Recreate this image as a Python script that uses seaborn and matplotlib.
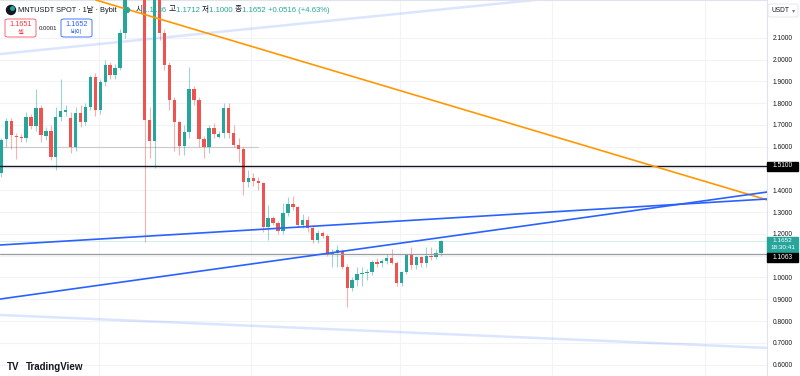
import numpy as np
import pandas as pd
import seaborn as sns
import matplotlib.pyplot as plt
from matplotlib.patches import Rectangle, FancyBboxPatch, Ellipse

# daily candles, MNTUSDT
opens = [1.479, 1.634, 1.719, 1.650, 1.643, 1.640, 1.737, 1.695, 1.777, 1.649,
         1.672, 1.553, 1.735, 1.760, 1.732, 1.599, 1.755, 1.714, 1.782, 1.920,
         1.768, 1.897, 1.975, 1.929, 1.961, 2.122, 2.320, 2.550, 2.450, 2.360,
         1.723, 1.627, 2.300, 2.122, 1.975, 1.814, 1.714, 1.603, 1.667, 1.865,
         1.814, 1.635, 1.599, 1.686, 1.645, 1.663, 1.777, 1.663, 1.608, 1.590,
         1.438, 1.456, 1.443, 1.433, 1.232, 1.273, 1.250, 1.214, 1.296, 1.337,
         1.324, 1.241, 1.264, 1.227, 1.172, 1.204, 1.190, 1.108, 1.113, 1.122,
         1.049, 0.952, 0.989, 1.016, 1.021, 1.025, 1.071, 1.066, 1.075, 1.090,
         1.066, 0.975, 1.025, 1.103, 1.057, 1.094, 1.066, 1.099, 1.094, 1.1136]
highs = [1.640, 1.732, 1.732, 1.663, 1.660, 1.760, 1.750, 1.865, 1.790, 1.690,
         1.700, 1.780, 1.910, 1.790, 1.760, 1.780, 1.790, 1.800, 1.930, 1.940,
         1.910, 2.000, 1.990, 1.980, 2.140, 2.360, 2.620, 2.650, 2.500, 2.400,
         1.780, 2.350, 2.300, 2.140, 1.990, 1.830, 1.720, 1.700, 1.966, 1.880,
         1.830, 1.650, 1.700, 1.710, 1.670, 1.800, 1.800, 1.700, 1.640, 1.600,
         1.493, 1.480, 1.460, 1.440, 1.332, 1.280, 1.260, 1.340, 1.370, 1.374,
         1.330, 1.290, 1.280, 1.240, 1.220, 1.215, 1.200, 1.130, 1.150, 1.130,
         1.060, 1.000, 1.050, 1.050, 1.040, 1.080, 1.090, 1.085, 1.110, 1.130,
         1.075, 1.030, 1.110, 1.140, 1.100, 1.100, 1.140, 1.140, 1.130, 1.1712]
lows = [1.460, 1.600, 1.590, 1.544, 1.620, 1.620, 1.680, 1.670, 1.620, 1.630,
        1.540, 1.493, 1.720, 1.740, 1.570, 1.580, 1.690, 1.700, 1.770, 1.740,
        1.750, 1.880, 1.910, 1.910, 1.950, 2.100, 2.300, 2.400, 2.300, 1.163,
        1.550, 1.500, 2.090, 1.950, 1.770, 1.580, 1.560, 1.560, 1.640, 1.790,
        1.600, 1.548, 1.570, 1.640, 1.640, 1.640, 1.640, 1.600, 1.530, 1.378,
        1.415, 1.420, 1.400, 1.210, 1.172, 1.240, 1.200, 1.200, 1.280, 1.310,
        1.230, 1.225, 1.210, 1.160, 1.160, 1.180, 1.100, 1.049, 1.049, 1.040,
        0.865, 0.940, 0.960, 0.960, 0.990, 1.010, 1.050, 1.050, 1.060, 1.060,
        0.960, 0.960, 1.015, 1.040, 1.040, 1.050, 1.050, 1.080, 1.085, 1.1000]
closes = [1.631, 1.719, 1.654, 1.645, 1.638, 1.737, 1.695, 1.777, 1.654, 1.672,
          1.553, 1.737, 1.764, 1.770, 1.599, 1.755, 1.714, 1.782, 1.920, 1.768,
          1.897, 1.975, 1.929, 1.961, 2.122, 2.320, 2.550, 2.450, 2.360, 1.723,
          1.627, 2.300, 2.122, 1.975, 1.814, 1.714, 1.603, 1.667, 1.865, 1.814,
          1.635, 1.599, 1.686, 1.658, 1.658, 1.777, 1.663, 1.608, 1.590, 1.438,
          1.456, 1.443, 1.433, 1.232, 1.273, 1.250, 1.214, 1.296, 1.337, 1.324,
          1.241, 1.264, 1.227, 1.172, 1.204, 1.190, 1.108, 1.117, 1.126, 1.049,
          0.952, 0.989, 1.016, 1.021, 1.025, 1.071, 1.062, 1.075, 1.090, 1.066,
          0.975, 1.025, 1.103, 1.057, 1.094, 1.066, 1.099, 1.094, 1.112, 1.1652]

# drawings (candle index, price anchors)
orange_idx, orange_px = [19.1, 155.0], [2.273, 1.356]
blue_a_idx, blue_a_px = [-0.3, 155.0], [1.149, 1.360]
blue_b_idx, blue_b_px = [-0.3, 155.0], [0.901, 1.392]
faint_top_idx, faint_top_px = [-0.3, 108.0], [2.025, 2.273]
faint_low_idx, faint_low_px = [-0.3, 155.0], [0.828, 0.677]
old_level_idx, old_level_px = [-0.3, 52.0], [1.60, 1.60]
level_black = 1.51
level_gray = 1.1063
last_price = 1.1652

month_grid = [19.7, 50.5, 80.7, 111.4, 142.4]
price_ticks = [0.6, 0.7, 0.8, 0.9, 1.0, 1.1, 1.2, 1.3, 1.4, 1.5,
               1.6, 1.7, 1.8, 1.9, 2.0, 2.1]
hidden_ticks = [1.1, 1.5]  # covered by the price tags

# OHLC legend in the header
ohlc_labels = ['시', '고', '저', '종']
ohlc_values = ['1.1136', '1.1712', '1.1000', '1.1652']
change_text = '+0.0516 (+4.63%)'

GREEN = '#26a69a'
RED = '#ef5350'
DARK = '#131722'

df = pd.DataFrame({'open': opens, 'high': highs, 'low': lows, 'close': closes})
df['idx'] = np.arange(len(df))
df['up'] = df['close'] >= df['open']
df['color'] = np.where(df['up'], GREEN, RED)
df['bottom'] = df[['open', 'close']].min(axis=1)
df['body'] = (df['close'] - df['open']).abs().clip(lower=0.004)

sns.set_style('white')
plt.rcParams['font.family'] = ['Liberation Sans', 'Noto Sans CJK KR']

fig = plt.figure(figsize=(8, 3.76), dpi=100)
ax = fig.add_axes([0, 0, 767 / 800, 1])
ax.set_xlim(-0.3, 155.0)
ax.set_ylim(0.548, 2.273)

ax.set_xticks(month_grid)
ax.set_yticks(price_ticks)
ax.set_yticklabels(['' if p in hidden_ticks else f'{p:.4f}' for p in price_ticks])
ax.grid(color='#f2f3f7', lw=0.8)
ax.yaxis.tick_right()
ax.tick_params(axis='x', length=0, labelbottom=False)
ax.tick_params(axis='y', length=0, pad=4, labelsize=4.8, labelcolor=DARK)
for s in ax.spines.values():
    s.set_visible(False)
ax.spines['right'].set_visible(True)
ax.spines['right'].set_color('#e0e3eb')
ax.spines['right'].set_linewidth(0.8)
ax.spines['top'].set_visible(True)
ax.spines['top'].set_color('#e0e3eb')
ax.spines['top'].set_linewidth(1.5)

# horizontal levels
ax.axhline(level_black, color=DARK, lw=1.0, zorder=4)
ax.axhline(level_gray, color='#9a9ca3', lw=0.9, zorder=4)
ax.axhline(last_price, color=GREEN, lw=0.7, alpha=0.2, zorder=1)
sns.lineplot(x=old_level_idx, y=old_level_px, color='#c8cad0', lw=0.8, ax=ax, zorder=1)

# faint channel lines
sns.lineplot(x=faint_top_idx, y=faint_top_px, color='#2962ff', alpha=0.16, lw=1.8, ax=ax, zorder=1)
sns.lineplot(x=faint_low_idx, y=faint_low_px, color='#2962ff', alpha=0.16, lw=1.8, ax=ax, zorder=1)

# candles
ax.vlines(df['idx'], df['low'], df['high'], colors=df['color'], lw=0.8, alpha=0.45, zorder=2)
ax.bar(df['idx'], df['body'], bottom=df['bottom'], width=0.68, color=df['color'],
       linewidth=0, zorder=3)

# trend lines
sns.lineplot(x=orange_idx, y=orange_px, color='#ff9800', lw=1.2, ax=ax, zorder=5)
sns.lineplot(x=blue_a_idx, y=blue_a_px, color='#2962ff', lw=1.2, ax=ax, zorder=5)
sns.lineplot(x=blue_b_idx, y=blue_b_px, color='#2962ff', lw=1.2, ax=ax, zorder=5)


def T(x, y, s, **kw):
    kw.setdefault('va', 'center')
    kw.setdefault('fontsize', 5.5)
    kw.setdefault('color', DARK)
    return fig.text(x / 800, 1 - y / 376, s, **kw)


def box(x0, y0, w, h, **kw):
    fig.add_artist(Rectangle((x0 / 800, 1 - (y0 + h) / 376), w / 800, h / 376,
                             transform=fig.transFigure, **kw))


def rbox(x0, y0, w, h, **kw):
    fig.add_artist(FancyBboxPatch((x0 / 800, 1 - (y0 + h) / 376), w / 800, h / 376,
                                  boxstyle='round,pad=0,rounding_size=0.004',
                                  transform=fig.transFigure, **kw))


# price tags on the axis
box(767, 161.5, 31, 9, color='#000000')
T(782.5, 166, '1.5100', color='white', ha='center', fontsize=4.8)
box(767, 236.5, 31, 16, color=GREEN)
T(782.5, 241, '1.1652', color='white', ha='center', fontsize=4.6)
T(782.5, 248, '18:30:41', color='white', ha='center', fontsize=4.6)
box(767, 253, 31, 9, color='#000000')
T(782.5, 257.5, '1.1063', color='white', ha='center', fontsize=4.8)

rbox(768, 4, 30, 13, facecolor='white', edgecolor='#e0e3eb', lw=0.6)
T(771, 10.5, 'USDT', fontsize=4.8)
T(792, 10.5, '▾', fontsize=4.5, color='#787b86', family='DejaVu Sans')

# header
fig.add_artist(Ellipse((11 / 800, 1 - 10 / 376), 9 / 800, 9 / 376,
                       transform=fig.transFigure, color=DARK))
fig.add_artist(Ellipse((12.5 / 800, 1 - 8.5 / 376), 3.5 / 800, 3.5 / 376,
                       transform=fig.transFigure, color=GREEN))
T(18, 10, 'MNTUSDT SPOT · 1날 · Bybit', fontsize=5.3)
fig.add_artist(Ellipse((127 / 800, 1 - 10 / 376), 5 / 800, 5 / 376,
                       transform=fig.transFigure, color=GREEN))

renderer = fig.canvas.get_renderer()
pieces = []
for lab, val in zip(ohlc_labels, ohlc_values):
    pieces += [(lab, DARK), (val + ' ', GREEN)]
pieces.append((change_text, GREEN))
cx = 136
for s, c in pieces:
    t = T(cx, 10, s, fontsize=5.6, color=c)
    cx += t.get_window_extent(renderer).width

rbox(5, 19, 31, 18, facecolor='white', edgecolor='#f7525f', lw=0.6)
T(20.5, 24.5, '1.1651', ha='center', fontsize=5.3, color='#f23645')
T(20.5, 32, '셀', ha='center', fontsize=4.5, color='#f23645')
T(48, 28, '0.0001', ha='center', fontsize=4.3)
rbox(61, 19, 31, 18, facecolor='white', edgecolor='#2962ff', lw=0.6)
T(76.5, 24.5, '1.1652', ha='center', fontsize=5.3, color='#2962ff')
T(76.5, 32, '바이', ha='center', fontsize=4.5, color='#2962ff')

# logo
T(7, 366.5, 'TV', fontsize=7, fontweight='heavy')
T(26, 366.5, 'TradingView', fontsize=7, fontweight='bold')

fig.savefig('out.png', dpi=100)
